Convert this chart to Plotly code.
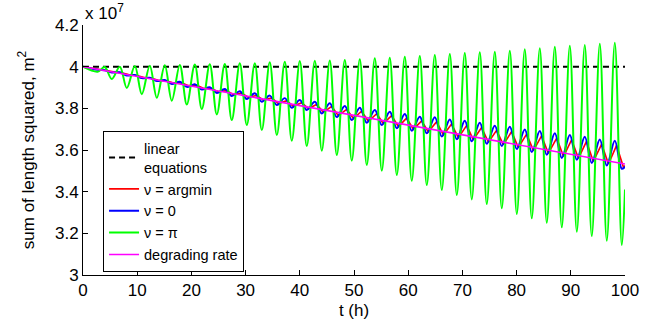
import plotly.graph_objects as go

# values in units of 1e7 m^2
t_lin = [0, 100]
v_lin = [4.0, 4.0]

t_rate = [0, 100]
v_rate = [4.0, 3.533]

# extrema times (h) shared by green and blue curves
t_ext = [0, 2.7, 4.0, 5.31, 6.79, 8.08, 9.56, 10.85, 12.32, 13.62, 15.09, 16.38, 17.86, 19.15,
         20.63, 21.92, 23.39, 24.69, 26.16, 27.45, 28.93, 30.22, 31.70, 32.99, 34.46, 35.76,
         37.23, 38.52, 40.0, 41.29, 42.77, 44.06, 45.53, 46.83, 48.30, 49.59, 51.07, 52.36,
         53.84, 55.13, 56.60, 57.90, 59.37, 60.66, 62.14, 63.43, 64.91, 66.20, 67.68, 68.97,
         70.44, 71.73, 73.21, 74.50, 75.98, 77.27, 78.75, 80.04, 81.51, 82.80, 84.28, 85.57,
         87.05, 88.34, 89.82, 91.11, 92.58, 93.87, 95.35, 96.64, 98.12, 99.41, 100]

v_pi = [4.0, 3.976, 3.998, 3.941, 4.000, 3.898, 4.003, 3.868, 4.005, 3.851, 4.007, 3.837, 4.008,
        3.819, 4.010, 3.797, 4.012, 3.771, 4.013, 3.744, 4.016, 3.720, 4.017, 3.696, 4.021,
        3.672, 4.024, 3.645, 4.027, 3.619, 4.029, 3.597, 4.030, 3.576, 4.032, 3.549, 4.036,
        3.528, 4.040, 3.501, 4.043, 3.480, 4.048, 3.453, 4.051, 3.432, 4.056, 3.408, 4.061,
        3.384, 4.066, 3.363, 4.069, 3.341, 4.072, 3.320, 4.077, 3.293, 4.084, 3.272, 4.088,
        3.251, 4.096, 3.229, 4.101, 3.208, 4.104, 3.187, 4.110, 3.165, 4.115, 3.144, 3.41]

v_zero = [4.0, 3.985, 3.983, 3.972, 3.973, 3.958, 3.960, 3.945, 3.947, 3.931, 3.936, 3.917, 3.928,
          3.903, 3.916, 3.890, 3.901, 3.874, 3.893, 3.859, 3.882, 3.845, 3.872, 3.832, 3.861,
          3.816, 3.849, 3.803, 3.840, 3.792, 3.832, 3.775, 3.824, 3.758, 3.811, 3.744, 3.803,
          3.731, 3.792, 3.720, 3.784, 3.705, 3.773, 3.693, 3.760, 3.680, 3.757, 3.665, 3.747,
          3.652, 3.741, 3.642, 3.731, 3.630, 3.717, 3.619, 3.712, 3.605, 3.699, 3.590, 3.691,
          3.577, 3.680, 3.562, 3.672, 3.553, 3.664, 3.538, 3.651, 3.526, 3.645, 3.510, 3.52]

t_arg = [0, 2.8, 4.3, 5.6, 7.1, 8.4, 9.9, 11.15, 12.65, 13.9, 15.4, 16.7, 18.2, 19.45, 21.0,
         22.2, 23.7, 25.0, 26.5, 27.75, 29.3, 30.5, 32.0, 33.3, 34.8, 36.05, 37.6, 38.8, 40.35,
         41.6, 43.1, 44.35, 45.9, 47.1, 48.65, 49.9, 51.4, 52.65, 54.2, 55.4, 56.95, 58.2, 59.7,
         60.95, 62.5, 63.7, 65.25, 66.5, 68.0, 69.25, 70.8, 72.0, 73.55, 74.8, 76.3, 77.55,
         79.1, 80.3, 81.85, 83.1, 84.6, 85.85, 87.4, 88.65, 90.15, 91.4, 92.9, 94.15, 95.7,
         96.95, 98.45, 99.7, 100]

v_arg = [4.0, 3.986, 3.982, 3.976, 3.971, 3.962, 3.958, 3.949, 3.944, 3.935, 3.932, 3.922, 3.923,
         3.909, 3.910, 3.896, 3.894, 3.880, 3.885, 3.866, 3.873, 3.852, 3.862, 3.839, 3.850,
         3.823, 3.837, 3.810, 3.827, 3.799, 3.818, 3.782, 3.809, 3.765, 3.795, 3.751, 3.786,
         3.738, 3.774, 3.727, 3.765, 3.712, 3.753, 3.700, 3.740, 3.687, 3.736, 3.672, 3.725,
         3.659, 3.718, 3.649, 3.708, 3.637, 3.694, 3.626, 3.689, 3.612, 3.676, 3.597, 3.668,
         3.584, 3.657, 3.569, 3.649, 3.560, 3.641, 3.545, 3.628, 3.533, 3.622, 3.518, 3.525]

x_ticks = [0, 10, 20, 30, 40, 50, 60, 70, 80, 90, 100]
y_ticks = [3, 3.2, 3.4, 3.6, 3.8, 4, 4.2]
y_ticklabels = ["3", "3.2", "3.4", "3.6", "3.8", "4", "4.2"]

FONT = "Liberation Sans, Arial, sans-serif"

fig = go.Figure()
fig.add_trace(go.Scatter(x=t_lin, y=v_lin, mode="lines", name="linear<br>equations",
                         line=dict(color="black", width=2, dash="6px,4px")))
fig.add_trace(go.Scatter(x=t_arg, y=v_arg, mode="lines", name="\u03bd = argmin",
                         line=dict(color="#ff0000", width=1.6)))
fig.add_trace(go.Scatter(x=t_ext, y=v_zero, mode="lines", name="\u03bd = 0",
                         line=dict(color="#0000ff", width=2, shape="spline")))
fig.add_trace(go.Scatter(x=t_ext, y=v_pi, mode="lines", name="\u03bd = \u03c0",
                         line=dict(color="#00ff00", width=2, shape="spline")))
fig.add_trace(go.Scatter(x=t_rate, y=v_rate, mode="lines", name="degrading rate",
                         line=dict(color="#ff00ff", width=1.6)))

axis_common = dict(showgrid=False, zeroline=False, showline=True, linecolor="black",
                   linewidth=1, ticks="inside", ticklen=5, tickcolor="black",
                   tickfont=dict(family=FONT, size=17, color="black"))

fig.update_layout(
    width=655, height=330,
    margin=dict(l=83, r=30, t=25, b=55),
    paper_bgcolor="white", plot_bgcolor="white",
    font=dict(family=FONT, size=17, color="black"),
    xaxis=dict(range=[0, 100], tickvals=x_ticks, title=dict(text="t (h)", standoff=4,
               font=dict(family=FONT, size=17)), **axis_common),
    yaxis=dict(range=[3, 4.2], tickvals=y_ticks, ticktext=y_ticklabels,
               title=dict(text="sum of length squared, m<sup>2</sup>", standoff=16,
                          font=dict(family=FONT, size=17)), **axis_common),
    legend=dict(x=0.037, y=0.575, xanchor="left", yanchor="top",
                bordercolor="black", borderwidth=1, bgcolor="white",
                font=dict(family=FONT, size=14.5), itemwidth=30, tracegroupgap=0),
    annotations=[dict(text="x 10<sup>7</sup>", xref="paper", yref="paper", x=0.0, y=1.05,
                      xanchor="left", yanchor="middle", showarrow=False,
                      font=dict(family=FONT, size=17))],
    showlegend=True,
)

fig.write_html("out.html")
